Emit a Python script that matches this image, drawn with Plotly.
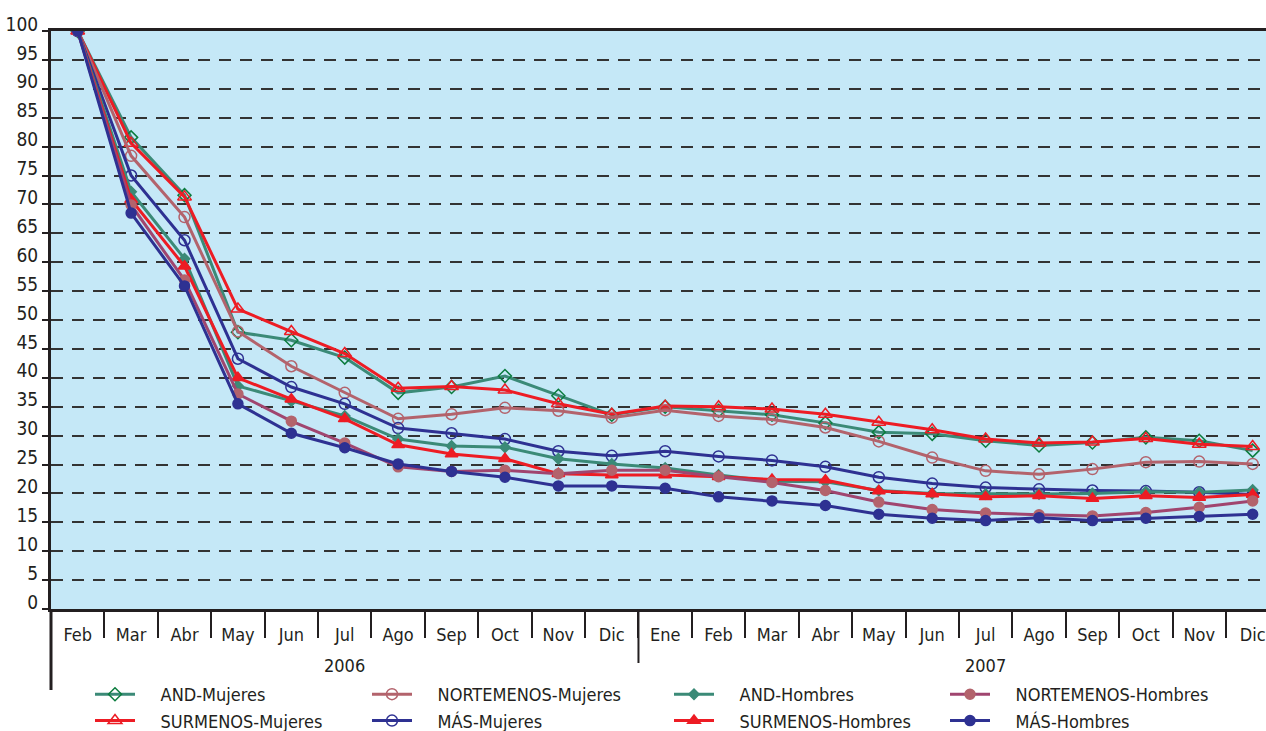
import plotly.graph_objects as go

months = ["Feb", "Mar", "Abr", "May", "Jun", "Jul", "Ago", "Sep", "Oct", "Nov", "Dic",
          "Ene", "Feb", "Mar", "Abr", "May", "Jun", "Jul", "Ago", "Sep", "Oct", "Nov", "Dic"]
years = ["2006", "2007"]
year_label_pos = [5, 17]
year_divider = [10.5]
yticks = list(range(0, 101, 5))

and_mujeres = [100, 81.6, 71.6, 47.9, 46.5, 43.5, 37.4, 38.4, 40.3, 36.9, 33.6, 35.0,
               34.3, 33.6, 32.2, 30.6, 30.3, 29.1, 28.3, 28.8, 29.7, 29.1, 27.4]
sur_mujeres = [100, 80.6, 71.3, 51.9, 48.0, 44.2, 38.2, 38.5, 37.9, 35.5, 33.7, 35.1,
               35.0, 34.6, 33.7, 32.3, 31.0, 29.4, 28.7, 28.9, 29.5, 28.5, 28.1]
norte_mujeres = [100, 78.4, 67.8, 48.0, 42.0, 37.4, 32.9, 33.7, 34.8, 34.3, 33.1, 34.4,
                 33.4, 32.8, 31.4, 29.0, 26.2, 23.9, 23.3, 24.2, 25.4, 25.5, 25.1]
mas_mujeres = [100, 75.0, 63.8, 43.3, 38.4, 35.5, 31.3, 30.4, 29.4, 27.3, 26.5, 27.3,
               26.4, 25.7, 24.6, 22.8, 21.7, 21.0, 20.7, 20.5, 20.4, 20.2, 19.8]
and_hombres = [100, 72.2, 60.6, 38.6, 36.0, 33.4, 29.4, 28.2, 28.0, 26.0, 25.1, 24.4,
               23.2, 22.1, 22.0, 20.5, 20.0, 19.9, 19.9, 20.0, 20.3, 20.2, 20.6]
sur_hombres = [100, 70.8, 59.3, 40.0, 36.3, 32.9, 28.4, 26.8, 26.0, 23.4, 23.2, 23.2,
               22.9, 22.4, 22.3, 20.4, 19.9, 19.4, 19.6, 19.1, 19.6, 19.3, 19.8]
norte_hombres = [100, 69.9, 56.9, 37.2, 32.5, 28.7, 24.6, 23.8, 24.0, 23.4, 24.0, 24.0,
                 22.9, 21.9, 20.5, 18.5, 17.2, 16.6, 16.3, 16.1, 16.7, 17.6, 18.7]
mas_hombres = [100, 68.5, 55.9, 35.5, 30.4, 27.9, 25.1, 23.8, 22.8, 21.3, 21.3, 20.9,
               19.4, 18.7, 17.9, 16.4, 15.7, 15.3, 15.8, 15.3, 15.7, 16.0, 16.4]

x = list(range(len(months)))

TEAL = "#3b8a77"
DKGREEN = "#0b7c3e"
RED = "#ed1c24"
MAUVE = "#b3636c"
PURPLE = "#a0456f"
BLUE = "#2e3192"
FONT = "DejaVu Sans Condensed, Liberation Sans, sans-serif"
TXT = "#231f20"
PAD = "\u00a0" * 4

series = [
    ("AND-Mujeres", and_mujeres, TEAL, "diamond-open", DKGREEN, 10, "legend"),
    ("SURMENOS-Mujeres", sur_mujeres, RED, "triangle-up-open", RED, 12, "legend"),
    ("NORTEMENOS-Mujeres", norte_mujeres, MAUVE, "circle-open", MAUVE, 11, "legend2"),
    ("MÁS-Mujeres", mas_mujeres, BLUE, "circle-open", BLUE, 11, "legend2"),
    ("AND-Hombres", and_hombres, TEAL, "diamond", TEAL, 8, "legend3"),
    ("SURMENOS-Hombres", sur_hombres, RED, "triangle-up", RED, 11, "legend3"),
    ("NORTEMENOS-Hombres", norte_hombres, PURPLE, "circle", MAUVE, 10, "legend4"),
    ("MÁS-Hombres", mas_hombres, BLUE, "circle", BLUE, 10, "legend4"),
]

fig = go.Figure()
for name, vals, lc, sym, mc, ms, lg in series:
    fig.add_trace(go.Scatter(
        x=x, y=vals, name=PAD + name, mode="lines+markers",
        line=dict(color=lc, width=3),
        marker=dict(symbol=sym, size=ms, color=mc, line=dict(color=mc, width=1.5)),
        legend=lg,
    ))

L, W = 51, 1215
T, H = 31, 578


def px_x(p):
    return (p - L) / W


def px_y(p):
    return (T + H - p) / H


legend_common = dict(
    orientation="v", yanchor="top", xanchor="left",
    font=dict(family=FONT, size=18, color=TXT),
    bgcolor="rgba(0,0,0,0)", itemwidth=40, tracegroupgap=0,
)

LEG_TOP = 676
fig.update_layout(
    width=1266, height=731,
    margin=dict(l=L, r=0, t=T, b=731 - T - H, autoexpand=False),
    paper_bgcolor="white", plot_bgcolor="#c5e8f7",
    font=dict(family=FONT, size=18, color=TXT),
    showlegend=True,
    legend=dict(x=px_x(90), y=px_y(LEG_TOP), **legend_common),
    legend2=dict(x=px_x(367), y=px_y(LEG_TOP), **legend_common),
    legend3=dict(x=px_x(669), y=px_y(LEG_TOP), **legend_common),
    legend4=dict(x=px_x(945), y=px_y(LEG_TOP), **legend_common),
    xaxis=dict(
        range=[-0.5, 22.25], tickmode="array", tickvals=x, ticktext=months,
        ticks="", showgrid=False, zeroline=False, automargin=False,
        showline=True, linewidth=3, linecolor="#231f20", mirror=True,
        tickfont=dict(family=FONT, size=18, color=TXT),
        ticklabelstandoff=7,
        minor=dict(tickmode="linear", tick0=0.5, dtick=1, ticks="outside",
                   ticklen=26, tickwidth=2, tickcolor="#231f20", showgrid=False),
    ),
    yaxis=dict(
        range=[0, 100], tickmode="array", tickvals=yticks,
        ticks="outside", ticklen=6, tickwidth=2, tickcolor="#231f20",
        showgrid=True, gridcolor="#333333", gridwidth=2, griddash="12px,9px",
        zeroline=False, showline=True, linewidth=3, linecolor="#231f20",
        automargin=False,
        tickfont=dict(family=FONT, size=19, color=TXT),
        ticklabelshift=-7, ticklabelstandoff=0,
    ),
)

for xv in year_divider:
    fig.add_shape(type="line", xref="x", yref="paper", x0=xv, x1=xv,
                  y0=0, y1=px_y(663), line=dict(color="#231f20", width=2))
fig.add_shape(type="line", xref="paper", yref="paper", x0=0, x1=0,
              y0=0, y1=px_y(690), line=dict(color="#231f20", width=3))

for yr, pos in zip(years, year_label_pos):
    fig.add_annotation(x=pos, xref="x", y=px_y(665), yref="paper", text=yr,
                       showarrow=False, font=dict(family=FONT, size=18, color=TXT),
                       xanchor="center", yanchor="middle")

fig.write_html("out.html", config={"displayModeBar": False},
               post_script="document.body.style.margin='0px';"
                           "document.body.style.overflow='hidden';")
